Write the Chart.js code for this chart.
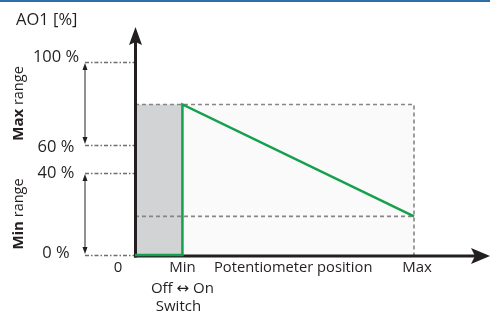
<!DOCTYPE html>
<html>
<head>
<meta charset="utf-8">
<script src="https://cdn.jsdelivr.net/npm/chart.js@4"></script>
<style>
  html, body { margin: 0; padding: 0; background: #ffffff; }
  #wrap { width: 490px; height: 314px; position: relative; }
</style>
</head>
<body>
<div id="wrap"><canvas id="c"></canvas></div>
<script>
// ---- data (diagram units) ----
const xTickLabels = ["0", "Min", "Max"];
const xTickValues = [0, 17, 100];          // potentiometer position: 0, Min, Max
const yTickLabels = ["0 %", "40 %", "60 %", "100 %"];
const yTickValues = [0, 42.5, 57, 100];    // schematic positions of the AO1 ticks
const outputX = [0, 17, 17, 100];          // potentiometer position along the green curve
const outputY = [0, 0, 78, 20];            // AO1 output along the green curve
const maxRangeTicks = [57, 100];           // "Max range" span
const minRangeTicks = [0, 42.5];           // "Min range" span
const xAxisTitle = "Potentiometer position";
const yAxisTitle = "AO1 [%]";

const FONT = "'Open Sans', 'DejaVu Sans', sans-serif";
const TXT = "#231f20";

const curve = outputX.map((x, i) => ({ x: x, y: outputY[i] }));
const switchX = outputX[1];
const topY = outputY[2];
const endX = outputX[3];
const endY = outputY[3];

const deco = {
  id: 'deco',
  beforeDraw(chart) {
    const ctx = chart.ctx;
    ctx.save();
    ctx.fillStyle = '#2d6ea5';
    ctx.fillRect(0, 0, chart.width, 2);
    ctx.restore();
  },
  beforeDatasetDraw(chart, args) {
    if (args.index !== 0) return;
    const ctx = chart.ctx;
    const xs = chart.scales.x, ys = chart.scales.y;
    const x0 = xs.getPixelForValue(0) + 0.5;
    const y0 = ys.getPixelForValue(0) + 1;
    ctx.save();
    // y axis
    ctx.strokeStyle = TXT; ctx.fillStyle = TXT; ctx.lineWidth = 3;
    ctx.beginPath(); ctx.moveTo(x0, y0 + 1.5); ctx.lineTo(x0, 40); ctx.stroke();
    ctx.beginPath(); ctx.moveTo(x0, 27); ctx.lineTo(x0 + 6.5, 45); ctx.lineTo(x0, 42); ctx.lineTo(x0 - 6.5, 45); ctx.closePath(); ctx.fill();
    // x axis
    ctx.beginPath(); ctx.moveTo(x0 - 1.5, y0); ctx.lineTo(478, y0); ctx.stroke();
    ctx.beginPath(); ctx.moveTo(490, y0); ctx.lineTo(471, y0 - 8); ctx.lineTo(475, y0); ctx.lineTo(471, y0 + 8); ctx.closePath(); ctx.fill();
    ctx.restore();
  },
  afterDatasetsDraw(chart) {
    const ctx = chart.ctx;
    const xs = chart.scales.x, ys = chart.scales.y;
    const x0 = xs.getPixelForValue(0);
    ctx.save();
    // left dash-dot reference lines
    ctx.strokeStyle = '#6d6e71'; ctx.lineWidth = 1.5; ctx.setLineDash([4, 2, 1.5, 2]);
    yTickValues.forEach(v => {
      const y = Math.round(ys.getPixelForValue(v)) + 0.5;
      ctx.beginPath(); ctx.moveTo(85, y); ctx.lineTo(x0 - 1, y); ctx.stroke();
    });
    ctx.setLineDash([]);
    // double arrows
    ctx.strokeStyle = TXT; ctx.fillStyle = TXT; ctx.lineWidth = 1;
    [maxRangeTicks, minRangeTicks].forEach(r => {
      const ya = ys.getPixelForValue(r[1]) + 1, yb = ys.getPixelForValue(r[0]) - 1;
      const ax = 85;
      ctx.beginPath(); ctx.moveTo(ax, ya + 3); ctx.lineTo(ax, yb - 3); ctx.stroke();
      ctx.beginPath(); ctx.moveTo(ax, ya); ctx.lineTo(ax + 2.5, ya + 7); ctx.lineTo(ax - 2.5, ya + 7); ctx.closePath(); ctx.fill();
      ctx.beginPath(); ctx.moveTo(ax, yb); ctx.lineTo(ax + 2.5, yb - 7); ctx.lineTo(ax - 2.5, yb - 7); ctx.closePath(); ctx.fill();
    });
    // texts
    ctx.fillStyle = TXT;
    ctx.textBaseline = 'alphabetic';
    ctx.font = '16.5px ' + FONT;
    ctx.textAlign = 'left';
    ctx.fillText(yAxisTitle, 16, 25);
    ctx.font = '16.5px ' + FONT;
    ctx.textAlign = 'center';
    const yOff = [-2, 0, 2, -5];
    yTickLabels.forEach((t, i) => {
      const y = ys.getPixelForValue(yTickValues[i]);
      ctx.textBaseline = 'middle';
      ctx.fillText(t, 56, y + yOff[i]);
    });
    ctx.textBaseline = 'alphabetic';
    ctx.font = '15px ' + FONT;
    const xOff = [-17, 0, 3];
    xTickLabels.forEach((t, i) => {
      ctx.fillText(t, xs.getPixelForValue(xTickValues[i]) + xOff[i], 272);
    });
    ctx.textAlign = 'left';
    ctx.font = '14.7px ' + FONT;
    ctx.fillText(xAxisTitle, 214, 272);
    ctx.font = '15px ' + FONT;
    ctx.textAlign = 'center';
    const sx = xs.getPixelForValue(switchX);
    ctx.fillText('Off \u2194 On', sx, 293);
    ctx.fillText('Switch', sx - 4, 311);
    // rotated range labels
    function rot(bold, rest, cx, cy) {
      ctx.save();
      ctx.translate(cx, cy); ctx.rotate(-Math.PI / 2);
      ctx.textBaseline = 'middle'; ctx.textAlign = 'left';
      ctx.font = 'bold 15px ' + FONT; const w1 = ctx.measureText(bold).width;
      ctx.font = '14.5px ' + FONT; const w2 = ctx.measureText(rest).width;
      const st = -(w1 + w2) / 2;
      ctx.font = 'bold 15px ' + FONT; ctx.fillText(bold, st, 0);
      ctx.font = '14.5px ' + FONT; ctx.fillText(rest, st + w1, 0);
      ctx.restore();
    }
    rot('Max', ' range', 19, (ys.getPixelForValue(maxRangeTicks[0]) + ys.getPixelForValue(maxRangeTicks[1])) / 2);
    rot('Min', ' range', 19, (ys.getPixelForValue(minRangeTicks[0]) + ys.getPixelForValue(minRangeTicks[1])) / 2);
    ctx.restore();
  }
};

new Chart(document.getElementById('c'), {
  type: 'scatter',
  data: {
    datasets: [
      { data: curve, showLine: true, borderColor: '#14a04c', borderWidth: 2.5, pointRadius: 0, clip: false, fill: false, borderJoinStyle: 'miter' },
      { data: [{ x: 0, y: endY }, { x: endX, y: endY }], showLine: true, borderColor: '#868686', borderWidth: 1.6, borderDash: [4, 3], pointRadius: 0, clip: false, fill: false },
      { data: [{ x: 0, y: topY }, { x: endX, y: topY }, { x: endX, y: 0 }], showLine: true, borderColor: '#868686', borderWidth: 1.6, borderDash: [4, 3], pointRadius: 0, clip: false, fill: false },
      { data: [{ x: 0.6, y: topY }, { x: switchX, y: topY }], showLine: true, borderWidth: 0, borderColor: 'rgba(0,0,0,0)', backgroundColor: '#d1d3d4', pointRadius: 0, clip: false, fill: 'origin' },
      { data: [{ x: switchX, y: topY }, { x: endX, y: topY }], showLine: true, borderWidth: 0, borderColor: 'rgba(0,0,0,0)', backgroundColor: '#fafafa', pointRadius: 0, clip: false, fill: 'origin' }
    ]
  },
  options: {
    responsive: true,
    maintainAspectRatio: false,
    animation: false,
    devicePixelRatio: 1,
    layout: { padding: { left: 135, right: 76, top: 62, bottom: 59 } },
    plugins: { legend: { display: false }, tooltip: { enabled: false } },
    scales: {
      x: { type: 'linear', display: false, min: 0, max: 100 },
      y: { type: 'linear', display: false, min: 0, max: 100 }
    }
  },
  plugins: [deco]
});
</script>
</body>
</html>
